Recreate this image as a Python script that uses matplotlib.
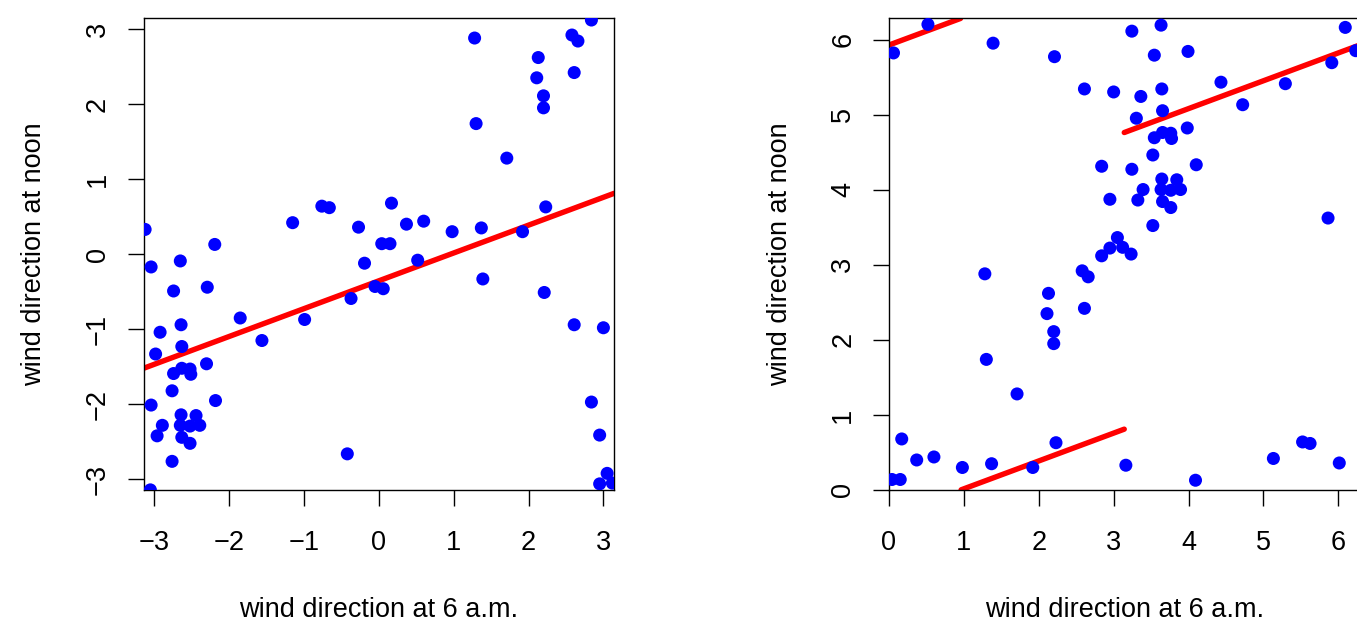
import numpy as np
import matplotlib
matplotlib.use("Agg")
import matplotlib.pyplot as plt

plt.rcParams["font.family"] = ["Liberation Sans", "DejaVu Sans"]

# wind direction (radians, -pi..pi) at 6 a.m. and at noon
dir_6am = [-3.12, -3.04, -2.65, -2.19, -2.74, -2.29, -1.15, -0.76, -0.66, -0.27,
           -0.19, -2.64, -2.92, -2.98, -2.63, -1.85, -1.56, -0.99, -0.37, -0.05,
           0.06, -2.74, -2.63, -2.52, -2.51, -2.30, -2.76, -3.04, -2.18, -2.64,
           -2.44, -2.89, -2.65, -2.52, -2.39, -2.96, -2.63, -2.52, -2.76, -0.42,
           -3.05, 1.28, 1.30, 1.71, 2.13, 2.11, 2.20, 2.20, 2.58, 2.66,
           2.61, 2.84, 0.17, 0.37, 0.60, 0.04, 0.15, 0.52, 0.98, 1.37,
           1.92, 2.23, 1.39, 2.21, 2.61, 3.00, 2.84, 2.95, 3.05, 2.95,
           3.12]
dir_noon = [0.33, -0.17, -0.09, 0.13, -0.49, -0.44, 0.42, 0.64, 0.62, 0.36,
            -0.12, -0.94, -1.04, -1.33, -1.23, -0.85, -1.15, -0.87, -0.59, -0.43,
            -0.46, -1.59, -1.52, -1.53, -1.60, -1.46, -1.82, -2.01, -1.95, -2.14,
            -2.15, -2.28, -2.28, -2.29, -2.28, -2.42, -2.44, -2.52, -2.76, -2.66,
            -3.14, 2.88, 1.74, 1.28, 2.62, 2.35, 2.11, 1.95, 2.92, 2.84,
            2.42, 3.12, 0.68, 0.40, 0.44, 0.14, 0.14, -0.08, 0.30, 0.35,
            0.30, 0.63, -0.33, -0.51, -0.94, -0.98, -1.97, -2.41, -2.92, -3.06,
            -3.05]

# fitted line (noon = a + b * 6am)
fit_a = -0.355
fit_b = 0.371

x_left = np.array(dir_6am)
y_left = np.array(dir_noon)
two_pi = 2 * np.pi

# same data on the 0..2pi scale
x_right = np.mod(x_left, two_pi)
y_right = np.mod(y_left, two_pi)

xs = np.linspace(-np.pi, np.pi, 800)
ys = fit_a + fit_b * xs

xr = np.mod(xs, two_pi)
yr = np.mod(ys, two_pi)
order = np.argsort(xr)
xr, yr = xr[order], yr[order]
jump = np.where(np.abs(np.diff(yr)) > 1)[0] + 1
xr = np.insert(xr, jump, np.nan)
yr = np.insert(yr, jump, np.nan)

fig = plt.figure(figsize=(13.57, 6.29), dpi=100)
ax1 = fig.add_axes([0.10575, 0.22099, 0.34672, 0.74976])
ax2 = fig.add_axes([0.65512, 0.22099, 0.34672, 0.74976])

fs = 19.5

ax1.scatter(x_left, y_left, s=88, color="blue", edgecolors="none", zorder=3)
ax1.plot(xs, ys, color="red", lw=3.9, solid_capstyle="round", zorder=2)
ax1.set_xlim(-np.pi, np.pi)
ax1.set_ylim(-np.pi, np.pi)
ax1.set_xticks([-3, -2, -1, 0, 1, 2, 3])
ax1.set_yticks([-3, -2, -1, 0, 1, 2, 3])

ax2.scatter(x_right, y_right, s=88, color="blue", edgecolors="none", zorder=3)
ax2.plot(xr, yr, color="red", lw=3.9, solid_capstyle="round", zorder=2)
ax2.set_xlim(0, two_pi)
ax2.set_ylim(0, two_pi)
ax2.set_xticks([0, 1, 2, 3, 4, 5, 6])
ax2.set_yticks([0, 1, 2, 3, 4, 5, 6])

for ax in (ax1, ax2):
    for sp in ax.spines.values():
        sp.set_linewidth(1.0)
        sp.set_color("black")
    ax.tick_params(axis="both", length=11.5, width=1.0, labelsize=fs, colors="black")
    ax.tick_params(axis="x", pad=17)
    ax.tick_params(axis="y", pad=12, labelrotation=90)
    for lab in ax.get_yticklabels():
        lab.set_va("center")
    ax.set_xlabel("wind direction at 6 a.m.", fontsize=fs, labelpad=30)
    ax.set_ylabel("wind direction at noon", fontsize=fs, labelpad=27)

fig.savefig("out.png", dpi=100)
